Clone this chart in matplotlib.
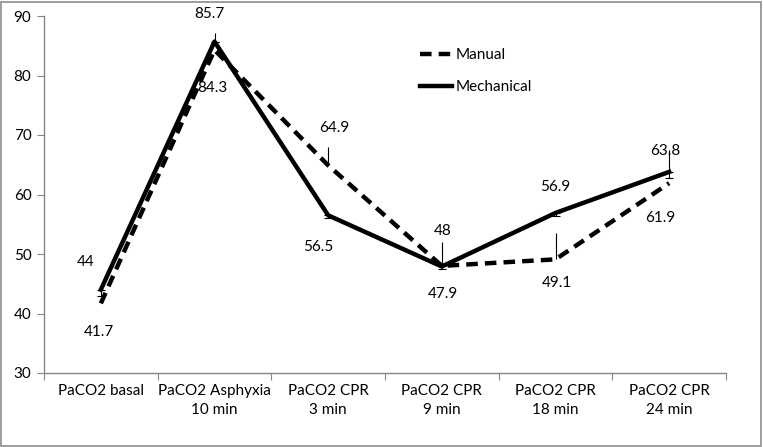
import numpy as np
import matplotlib.pyplot as plt
from matplotlib.patches import Rectangle

plt.rcParams["font.family"] = ["Lato", "DejaVu Sans"]
plt.rcParams["font.size"] = 11

# Categories and values
categories = [
    "PaCO2 basal",
    "PaCO2 Asphyxia\n10 min",
    "PaCO2 CPR\n3 min",
    "PaCO2 CPR\n9 min",
    "PaCO2 CPR\n18 min",
    "PaCO2 CPR\n24 min",
]
manual = [41.7, 84.3, 64.9, 48.0, 49.1, 61.9]
mechanical = [44.0, 85.7, 56.5, 47.9, 56.9, 63.8]

# error bars: long upward ones (drawn without caps), short downward ones (capped)
manual_err_hi = [0, 0, 3.1, 4.0, 4.4, 0]
mech_err_hi = [0, 1.4, 0, 0, 0, 3.7]
mech_err_lo = [1.0, 0, 0.5, 0.5, 0.5, 1.0]

# label offsets in pixels (dx, dy)
manual_lbl_off = [(-2, -29), (-2, -38), (6, 37), (1, 35), (1, -24), (-9, -35)]
mech_lbl_off = [(-15, 28), (-5, 28), (-10, -32), (1, -28), (0, 26), (-4, 21)]

W, H, DPI = 763, 447, 100
fig = plt.figure(figsize=(W / DPI, H / DPI), dpi=DPI)
ax = fig.add_axes([44 / W, 1 - 373 / H, (726 - 44) / W, (373 - 16) / H])

x = np.arange(len(categories)) + 0.5
grey = "#868686"
zeros = [0] * len(categories)

ax.errorbar(x, manual, yerr=[zeros, manual_err_hi], fmt="none",
            ecolor="black", elinewidth=0.8, capsize=0, zorder=2)
ax.errorbar(x, mechanical, yerr=[zeros, mech_err_hi], fmt="none",
            ecolor="black", elinewidth=0.8, capsize=0, zorder=2)
ax.errorbar(x, mechanical, yerr=[mech_err_lo, zeros], fmt="none",
            ecolor="black", elinewidth=0.8, capsize=3, capthick=0.8, zorder=2)

ax.plot(x, manual, color="black", lw=3.2, linestyle=(0, (2.6, 1.6)),
        label="Manual", zorder=3)
ax.plot(x, mechanical, color="black", lw=3.2, label="Mechanical", zorder=3)

for xi, v, off in zip(x, manual, manual_lbl_off):
    ax.annotate(f"{v:g}", (xi, v), xytext=off, textcoords="offset pixels",
                ha="center", va="center")
for xi, v, off in zip(x, mechanical, mech_lbl_off):
    ax.annotate(f"{v:g}", (xi, v), xytext=off, textcoords="offset pixels",
                ha="center", va="center")

ax.set_xlim(0, len(categories))
ax.set_ylim(30, 90)
ax.set_yticks(range(30, 91, 10))
ax.set_xticks(range(len(categories) + 1))
ax.set_xticklabels([])
ax.set_xticks(x, minor=True)
ax.set_xticklabels(categories, minor=True, linespacing=1.45)
ax.tick_params(axis="x", which="minor", length=0, pad=8)
ax.tick_params(axis="x", which="major", length=5, color=grey, direction="out")
ax.tick_params(axis="y", length=5, color=grey, direction="out", pad=4)
for s in ["top", "right"]:
    ax.spines[s].set_visible(False)
for s in ["left", "bottom"]:
    ax.spines[s].set_color(grey)
    ax.spines[s].set_linewidth(1.0)

ax.legend(loc="upper left", bbox_to_anchor=(420 / W, 1 - 48 / H),
          bbox_transform=fig.transFigure, frameon=False, handlelength=2.1,
          handletextpad=0.2, labelspacing=1.2, borderpad=0, borderaxespad=0)

# outer chart border
fig.patches.append(Rectangle((1 / W, 1 / H), (W - 3) / W, (H - 3) / H,
                             transform=fig.transFigure, fill=False,
                             edgecolor="#8c8c8c", lw=1.2))

plt.savefig("out.png", dpi=DPI)
